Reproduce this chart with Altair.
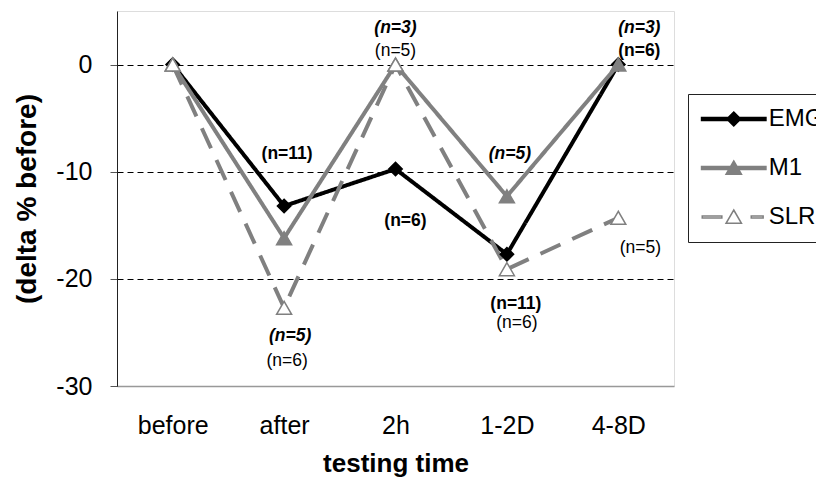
import altair as alt
import pandas as pd

# ---- data ----
times = ["before", "after", "2h", "1-2D", "4-8D"]
series_names = ["EMG", "M1", "SLR"]
emg = [0, -13.2, -9.75, -17.7, 0]
m1 = [0, -16.2, 0, -12.3, 0]
slr = [0, -22.7, 0, -19.1, -14.3]

ann_time = ["after", "after", "after", "2h", "2h", "2h", "1-2D", "1-2D", "1-2D", "4-8D", "4-8D", "4-8D"]
ann_value = [-8.3, -25.3, -27.7, 3.4, 1.3, -14.6, -8.3, -22.3, -24.1, 3.4, 1.3, -17.1]
ann_text = ["(n=11)", "(n=5)", "(n=6)", "(n=3)", "(n=5)", "(n=6)", "(n=5)", "(n=11)", "(n=6)", "(n=3)", "(n=6)", "(n=5)"]
ann_style = ["b", "bi", "r", "bi", "r", "b", "bi", "b", "r", "bi", "b", "r"]
ann_dx = [3, 6, 3, 0, 0, 10, 3, 9, 10, 21, 21, 22]

FONT = "Liberation Sans"
GRAY = "#808080"

rows = []
for name, vals in zip(series_names, [emg, m1, slr]):
    for t, v in zip(times, vals):
        rows.append({"time": t, "value": v, "series": name})
df = pd.DataFrame(rows)

ann_df = pd.DataFrame({
    "id": list(range(len(ann_text))),
    "time": ann_time,
    "value": ann_value,
    "label": ann_text,
})

x_enc = alt.X(
    "time:N", sort=times, scale=alt.Scale(domain=times),
    axis=alt.Axis(title="testing time", labelAngle=0, ticks=False, tickSize=0,
                  labelPadding=27, labelFontSize=25, labelFont=FONT, labelColor="black",
                  titleFontSize=26, titleFontWeight="bold", titleFont=FONT, titleColor="black",
                  titlePadding=12, domainColor="#999999", domainWidth=1.5, grid=False),
)
y_enc = alt.Y(
    "value:Q", scale=alt.Scale(domain=[-30, 5], nice=False, zero=False),
    axis=alt.Axis(values=[0, -10, -20, -30], title="(delta % before)", tickSize=7,
                  tickColor="#555555", labelPadding=18, labelFontSize=25, labelFont=FONT,
                  labelColor="black", labelExpr="'' + datum.value",
                  gridDash=[6, 4], gridColor="black", gridWidth=1, domainColor="#222222",
                  titleFontSize=28, titleFontWeight="bold", titleFont=FONT, titleColor="black",
                  titlePadding=14),
)

# legend symbols: line + marker drawn as one custom path
emg_path = "M-4.6,-0.2L4.6,-0.2L4.6,0.2L-4.6,0.2Z M0,-1L1,0L0,1L-1,0Z"
m1_path = "M-4.6,-0.2L4.6,-0.2L4.6,0.2L-4.6,0.2Z M0,-1L1.1,0.9L-1.1,0.9Z"
slr_path = ("M-4.5,-0.14L-1.7,-0.14L-1.7,0.14L-4.5,0.14Z "
            "M2.5,-0.14L4.2,-0.14L4.2,0.14L2.5,0.14Z M0,-1L1.1,0.9L-1.1,0.9Z")

legend = alt.Legend(
    title=None, orient="none", legendX=571, legendY=83,
    symbolSize=196, symbolStrokeWidth=1.5, symbolOpacity=1,
    symbolOffset=20.75, labelOffset=23, labelFontSize=24, labelFont=FONT,
    labelColor="black", padding=13, rowPadding=25, strokeColor="#222222",
    fillColor="white", labelLimit=300,
)

line_styles = {
    "EMG": dict(color="#000000", strokeDash=[1, 0]),
    "M1": dict(color=GRAY, strokeDash=[1, 0]),
    "SLR": dict(color=GRAY, strokeDash=[22, 13]),
}
marker_styles = {
    "EMG": dict(shape="diamond", fill="#000000", stroke="#000000", size=180),
    "M1": dict(shape="triangle-up", fill=GRAY, stroke=GRAY, size=225),
    "SLR": dict(shape="triangle-up", fill="#ffffff", stroke=GRAY, size=225),
}

line_layers = []
point_layers = []
for name in series_names:
    line_layers.append(
        alt.Chart(df).transform_filter(alt.datum.series == name).mark_line(
            strokeWidth=4, **line_styles[name]
        ).encode(x=x_enc, y=y_enc)
    )
    point_layers.append(
        alt.Chart(df).transform_filter(alt.datum.series == name).mark_point(
            filled=True, opacity=1, strokeWidth=1.5, **marker_styles[name]
        ).encode(x=x_enc, y=y_enc)
    )

legend_layer = alt.Chart(df).mark_point(opacity=0, strokeWidth=1.5, size=196).encode(
    x=x_enc, y=y_enc,
    shape=alt.Shape("series:N", scale=alt.Scale(domain=series_names, range=[emg_path, m1_path, slr_path]), legend=legend),
    fill=alt.Fill("series:N", scale=alt.Scale(domain=series_names, range=["#000000", GRAY, "#ffffff"]), legend=legend),
    stroke=alt.Stroke("series:N", scale=alt.Scale(domain=series_names, range=["#000000", GRAY, GRAY]), legend=legend),
)

style_map = {"b": ("bold", "normal"), "bi": ("bold", "italic"), "r": ("normal", "normal")}
texts = []
for i in range(len(ann_text)):
    w, s = style_map[ann_style[i]]
    texts.append(
        alt.Chart(ann_df).transform_filter(alt.datum.id == i).mark_text(
            font=FONT, fontSize=17.5, fontWeight=w, fontStyle=s, color="black",
            baseline="middle", align="center", dx=ann_dx[i],
        ).encode(x=x_enc, y=y_enc, text="label:N")
    )

chart = alt.layer(*line_layers, *point_layers, legend_layer, *texts).properties(
    width=557, height=375,
    autosize=alt.AutoSizeParams(type="none"),
    padding={"left": 109, "top": 3, "right": 142, "bottom": 92},
).configure_view(stroke="#999999", strokeWidth=1).configure(font=FONT)

chart.save("out.html", embed_options={"renderer": "svg", "actions": False})
